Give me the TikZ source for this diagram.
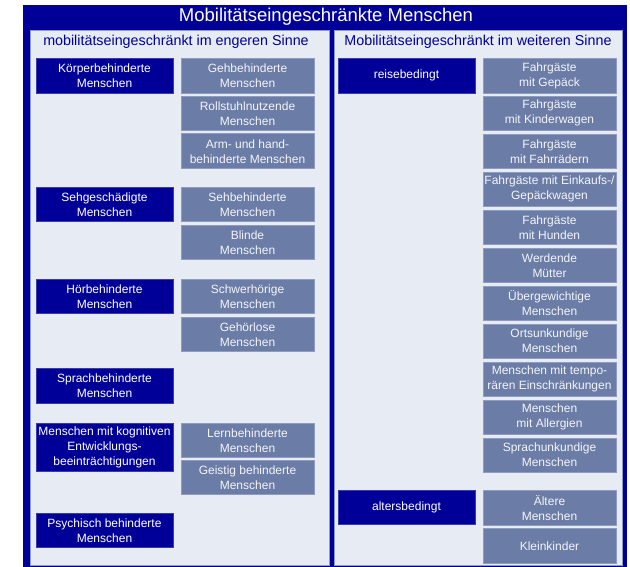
\documentclass[tikz,border=0pt]{standalone}
\usepackage{fontspec}
\setmainfont{Liberation Sans}
\definecolor{navy}{HTML}{000099}
\definecolor{navyedge}{HTML}{3A3AB0}
\definecolor{slate}{HTML}{6B7CA6}
\definecolor{slateedge}{HTML}{8E9CC2}
\definecolor{panelbg}{HTML}{E7EBF4}
\definecolor{boxtext}{HTML}{F4F5FA}
\begin{document}
\begin{tikzpicture}[x=1pt,y=-1pt,
  boxbase/.style={rectangle, anchor=north, inner sep=0pt, align=center,
    line width=0.6pt, font={\fontsize{12}{15}\selectfont}},
  catbox/.style={boxbase, fill=navy, draw=navyedge, text=white,
    minimum width=137pt, minimum height=34pt},
  subbox/.style={boxbase, fill=slate, draw=slateedge, text=boxtext,
    minimum width=133pt, minimum height=34pt},
  panel/.style={fill=panelbg, draw=slateedge, line width=0.4pt},
  heading/.style={text=navy, font={\fontsize{14.3}{17}\selectfont}}
]
\useasboundingbox (0,0) rectangle (630,567);
% outer frame and the two group panels
\fill[navy] (23,5) rectangle (627,567);
\draw[panel] (30,30) rectangle (329,565);
\draw[panel] (334,30) rectangle (622,565);
\node[text=white, font={\fontsize{18.5}{22}\selectfont}] (title) at (326,17) {Mobilitätseingeschränkte Menschen};
\node[heading] (hleft) at (176,42) {mobilitätseingeschränkt im engeren Sinne};
\node[heading] (hright) at (478,42) {Mobilitätseingeschränkt im weiteren Sinne};

% left group: categories
\node[catbox, minimum height=35pt] (koerper) at (104.5,58) {Körperbehinderte\\Menschen};
\node[catbox] (seh) at (104.5,187) {Sehgeschädigte\\Menschen};
\node[catbox] (hoer) at (104.5,279) {Hörbehinderte\\Menschen};
\node[catbox, minimum height=35pt] (sprach) at (104.5,368) {Sprachbehinderte\\Menschen};
\node[catbox, minimum height=48pt] (kogn) at (104.5,423) {Menschen mit kognitiven\\Entwicklungs-\\beeinträchtigungen};
\node[catbox] (psych) at (104.5,513) {Psychisch behinderte\\Menschen};

% left group: subgroups
\node[subbox, minimum height=35pt] (geh) at (247.5,58) {Gehbehinderte\\Menschen};
\node[subbox] (roll) at (247.5,96) {Rollstuhlnutzende\\Menschen};
\node[subbox, minimum height=35pt] (arm) at (247.5,133.5) {Arm- und hand-\\behinderte Menschen};
\node[subbox] (sehb) at (247.5,187) {Sehbehinderte\\Menschen};
\node[subbox] (blind) at (247.5,225) {Blinde\\Menschen};
\node[subbox] (schwer) at (247.5,279) {Schwerhörige\\Menschen};
\node[subbox] (gehlos) at (247.5,317) {Gehörlose\\Menschen};
\node[subbox] (lern) at (247.5,423) {Lernbehinderte\\Menschen};
\node[subbox] (geistig) at (247.5,460) {Geistig behinderte\\Menschen};

% right group: categories
\node[catbox, minimum height=35pt] (reise) at (406.5,58) {reisebedingt};
\node[catbox] (alters) at (406.5,490) {altersbedingt};

% right group: subgroups
\node[subbox, minimum height=35pt] (gepaeck) at (549.5,58) {Fahrgäste\\mit Gepäck};
\node[subbox] (kinderw) at (549.5,96) {Fahrgäste\\mit Kinderwagen};
\node[subbox] (rad) at (549.5,134) {Fahrgäste\\mit Fahrrädern};
\node[subbox] (einkauf) at (549.5,172) {Fahrgäste mit Einkaufs-/\\Gepäckwagen};
\node[subbox] (hunde) at (549.5,210) {Fahrgäste\\mit Hunden};
\node[subbox] (muetter) at (549.5,248) {Werdende\\Mütter};
\node[subbox] (gewicht) at (549.5,286) {Übergewichtige\\Menschen};
\node[subbox] (orts) at (549.5,323.5) {Ortsunkundige\\Menschen};
\node[subbox] (tempo) at (549.5,361.5) {Menschen mit tempo-\\rären Einschränkungen};
\node[subbox] (allerg) at (549.5,399.5) {Menschen\\mit Allergien};
\node[subbox] (sprachu) at (549.5,437.5) {Sprachunkundige\\Menschen};
\node[subbox, minimum height=35pt] (aeltere) at (549.5,490) {Ältere\\Menschen};
\node[subbox, minimum height=35pt] (klein) at (549.5,528) {Kleinkinder};
\end{tikzpicture}
\end{document}
